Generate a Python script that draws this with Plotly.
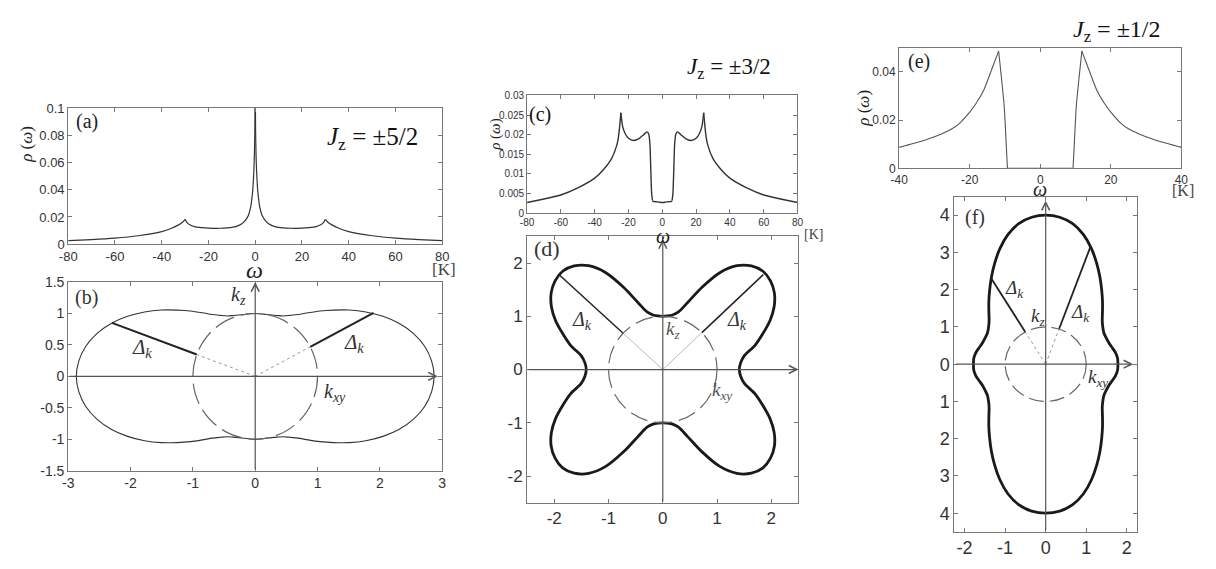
import numpy as np
import plotly.graph_objects as go

W, H = 1216, 569
SERIF = "Liberation Serif"
SANS = "Liberation Sans"

# ---------------- density of states rho(omega) ----------------
omega_a = [-80, -70, -60, -50, -40, -36, -33, -31, -30, -29.3, -28, -26, -23, -20, -15,
           -10, -7, -5, -3, -2, -1.2, -1, -0.6, -0.35, -0.15, 0,
           0.15, 0.35, 0.6, 1, 1.2, 2, 3, 5, 7, 10,
           15, 20, 23, 26, 28, 29.3, 30, 31, 33, 36, 40, 50, 60, 70, 80]
rho_a = [0.0026, 0.0033, 0.0044, 0.0062, 0.0092, 0.0115, 0.0140, 0.0163, 0.0183, 0.0160, 0.0142, 0.0129, 0.0122, 0.0118, 0.0117,
         0.0123, 0.0138, 0.0160, 0.0208, 0.0268, 0.037, 0.041, 0.053, 0.066, 0.085, 0.12,
         0.085, 0.066, 0.053, 0.041, 0.037, 0.0268, 0.0208, 0.0160, 0.0138, 0.0123,
         0.0117, 0.0118, 0.0122, 0.0129, 0.0142, 0.0160, 0.0183, 0.0163, 0.0140, 0.0115, 0.0092, 0.0062, 0.0044, 0.0033, 0.0026]
kinks_a = [-30, 0, 30]

omega_c = [-80, -70, -60, -50, -40, -35, -30, -27, -26, -25.3, -24.5, -23.5, -22, -20, -17, -14, -11, -9, -8, -7.3, -6.8, -6.3, -5.8, -5.5, -4, -2, 0,
           2, 4, 5.5, 5.8, 6.3, 6.8, 7.3, 8, 9, 11, 14, 17, 20, 22, 23.5, 24.5, 25.3, 26, 27, 30, 35, 40, 50, 60, 70, 80]
rho_c = [0.0027, 0.0036, 0.0046, 0.0064, 0.0089, 0.0110, 0.0139, 0.0172, 0.0192, 0.0218, 0.0256, 0.0222, 0.0203, 0.0191, 0.0185, 0.0189, 0.0200, 0.0207, 0.0201, 0.0175, 0.0110, 0.0050, 0.0032, 0.0030, 0.0029, 0.0028, 0.0027,
         0.0028, 0.0029, 0.0030, 0.0032, 0.0050, 0.0110, 0.0175, 0.0201, 0.0207, 0.0200, 0.0189, 0.0185, 0.0191, 0.0203, 0.0222, 0.0256, 0.0218, 0.0192, 0.0172, 0.0139, 0.0110, 0.0089, 0.0064, 0.0046, 0.0036, 0.0027]
kinks_c = [-24.5, -5.8, 5.8, 24.5]

omega_e = [-40, -36, -32, -28, -25, -22.8, -20, -18.2, -16, -14.4, -13, -12, -11.8, -11.1, -10.2, -9.7, -9.3,
           9.3, 9.7, 10.2, 11.1, 11.8, 12, 13, 14.4, 16, 18.2, 20, 22.8, 25, 28, 32, 36, 40]
rho_e = [0.0087, 0.0103, 0.0121, 0.0143, 0.0164, 0.0188, 0.0233, 0.0269, 0.0325, 0.0385, 0.0440, 0.0478, 0.0487, 0.0390, 0.0255, 0.0115, 0.0,
         0.0, 0.0115, 0.0255, 0.0390, 0.0487, 0.0478, 0.0440, 0.0385, 0.0325, 0.0269, 0.0233, 0.0188, 0.0164, 0.0143, 0.0121, 0.0103, 0.0087]
kinks_e = [-11.8, -9.3, 9.3, 11.8]

# ---------------- gap surfaces |k| = k_F + Delta_k ----------------
# polar angle measured from the k_z axis, first quadrant (mirror symmetric)
theta_deg = [0, 5, 10, 15, 20, 25, 30, 35, 40, 45, 50, 55, 60, 65, 70, 75, 80, 85, 90]
r_b = [1.00, 1.00, 1.00, 1.01, 1.03, 1.06, 1.12, 1.20, 1.32, 1.47, 1.64, 1.84, 2.05, 2.26, 2.46, 2.63, 2.76, 2.84, 2.87]
r_d = [1.00, 1.01, 1.04, 1.12, 1.34, 1.70, 2.10, 2.38, 2.54, 2.61, 2.59, 2.51, 2.37, 2.18, 1.96, 1.76, 1.53, 1.44, 1.41]
r_f = [4.00, 3.96, 3.83, 3.60, 3.30, 2.98, 2.68, 2.41, 2.18, 1.98, 1.82, 1.72, 1.66, 1.65, 1.66, 1.70, 1.75, 1.78, 1.78]

k_fermi = 1.0
# directions (deg from k_z) and outer radii of the marked Delta_k segments
gap_b_angles, gap_b_ends = [62.0, -69.7], [2.15, 2.45]
gap_d_angles, gap_d_ends = [46.1, -47.0], [2.57, 2.61]
gap_f_angles, gap_f_ends = [19.3, -30.2], [3.33, 2.68]


def closed_curve(theta, r):
    t = np.radians(np.asarray(theta, dtype=float))
    r = np.asarray(r, dtype=float)
    t_full = np.concatenate([t, np.pi - t[::-1][1:], np.pi + t[1:], 2 * np.pi - t[::-1][1:]])
    r_full = np.concatenate([r, r[::-1][1:], r[1:], r[::-1][1:]])
    return r_full * np.sin(t_full), r_full * np.cos(t_full)


def split_at(xs, ys, kinks):
    """Cut a curve into smooth pieces that share the kink points."""
    pieces, cur_x, cur_y = [], [], []
    for x, y in zip(xs, ys):
        cur_x.append(x)
        cur_y.append(y)
        if x in kinks:
            pieces.append((cur_x, cur_y))
            cur_x, cur_y = [x], [y]
    if len(cur_x) > 1:
        pieces.append((cur_x, cur_y))
    return pieces


def px_x(v):
    return v / W


def px_y(v):
    return 1 - v / H


fig = go.Figure()

# panel boxes in pixels: (left, right, top, bottom)
boxes = {
    1: (60, 439, 103, 243),
    2: (60, 439, 282, 476),
    3: (525, 799, 90, 211),
    4: (525, 800, 235, 509),
    5: (902, 1188, 41, 165),
    6: (958, 1143, 194, 539),
}


def axis_style(size):
    return dict(showline=True, mirror="ticks", linecolor="#777", linewidth=1,
                ticks="inside", ticklen=4, tickcolor="#777", showgrid=False,
                zeroline=False, tickfont=dict(family=SANS, size=size, color="#333"))


def ticks(vals, labels=None):
    if labels is None:
        labels = [("%g" % v) for v in vals]
    return dict(tickmode="array", tickvals=vals, ticktext=labels)


layout_axes = {}
xspec = {
    1: dict(range=[-80, 80], **ticks(list(range(-80, 81, 20))), size=13),
    2: dict(range=[-3, 3], **ticks([-3, -2, -1, 0, 1, 2, 3]), size=14),
    3: dict(range=[-80, 80], **ticks(list(range(-80, 81, 20))), size=10),
    4: dict(range=[-2.5, 2.5], **ticks([-2, -1, 0, 1, 2]), size=17),
    5: dict(range=[-40, 40], **ticks([-40, -20, 0, 20, 40]), size=12),
    6: dict(range=[-2.25, 2.25], **ticks([-2, -1, 0, 1, 2]), size=18),
}
yspec = {
    1: dict(range=[0, 0.1], **ticks([0, 0.02, 0.04, 0.06, 0.08, 0.1]), size=13),
    2: dict(range=[-1.5, 1.5], **ticks([-1.5, -1, -0.5, 0, 0.5, 1, 1.5]), size=14),
    3: dict(range=[0, 0.03], **ticks([0, 0.005, 0.01, 0.015, 0.02, 0.025, 0.03]), size=10),
    4: dict(range=[-2.5, 2.5], **ticks([-2, -1, 0, 1, 2]), size=17),
    5: dict(range=[0, 0.05], **ticks([0, 0.02, 0.04]), size=12),
    6: dict(range=[-4.5, 4.5], **ticks([-4, -3, -2, -1, 0, 1, 2, 3, 4],
                                        ["4", "3", "2", "1", "0", "1", "2", "3", "4"]), size=18),
}

for i, (l, r, t, b) in boxes.items():
    xs = dict(xspec[i])
    ys = dict(yspec[i])
    sx = xs.pop("size")
    sy = ys.pop("size")
    xa = axis_style(sx)
    xa.update(xs)
    xa.update(domain=[px_x(l), px_x(r)], anchor="y" if i == 1 else "y%d" % i)
    ya = axis_style(sy)
    ya.update(ys)
    ya.update(domain=[px_y(b), px_y(t)], anchor="x" if i == 1 else "x%d" % i)
    layout_axes["xaxis" if i == 1 else "xaxis%d" % i] = xa
    layout_axes["yaxis" if i == 1 else "yaxis%d" % i] = ya


def ax_ref(i):
    return ("x", "y") if i == 1 else ("x%d" % i, "y%d" % i)


# DOS curves, smoothed between their kinks
for i, (om, rho, kinks, w, col) in {1: (omega_a, rho_a, kinks_a, 1.2, "#333"),
                                    3: (omega_c, rho_c, kinks_c, 1.4, "#333"),
                                    5: (omega_e, rho_e, kinks_e, 1.1, "#555")}.items():
    xr, yr = ax_ref(i)
    for px, py in split_at(om, rho, kinks):
        fig.add_trace(go.Scatter(x=px, y=py, mode="lines", xaxis=xr, yaxis=yr,
                                 line=dict(color=col, width=w, shape="spline", smoothing=0.6),
                                 showlegend=False, hoverinfo="skip"))

annotations = []
shapes = []

# gap surfaces
surf = {2: (r_b, 1.1, "#333", gap_b_angles, gap_b_ends, "21px,7px", 2.0, "dot", "#999"),
        4: (r_d, 2.8, "#1a1a1a", gap_d_angles, gap_d_ends, "18px,7px", 1.5, "solid", "#bbb"),
        6: (r_f, 2.8, "#1a1a1a", gap_f_angles, gap_f_ends, "15px,6px", 1.8, "dot", "#999")}

arrow_ends = {2: (2.93, 1.5, -3.0, -1.5), 4: (2.5, 2.45, -2.5, -2.5), 6: (2.16, 4.39, -2.25, -4.5)}

for i, (rr, lw, col, angs, ends, dash, glw, idash, icol) in surf.items():
    xr, yr = ax_ref(i)
    # k_xy and k_z axes with arrow heads
    xe, ye, x0, y0 = arrow_ends[i]
    annotations.append(dict(x=xe, y=0, ax=x0, ay=0, xref=xr, yref=yr, axref=xr, ayref=yr,
                            text="", showarrow=True, arrowhead=5, arrowsize=1.3, arrowwidth=1.2,
                            arrowcolor="#555", standoff=0))
    annotations.append(dict(x=0, y=ye, ax=0, ay=y0, xref=xr, yref=yr, axref=xr, ayref=yr,
                            text="", showarrow=True, arrowhead=5, arrowsize=1.3, arrowwidth=1.2,
                            arrowcolor="#555", standoff=0))
    # Fermi surface |k| = k_F (dashed)
    shapes.append(dict(type="circle", xref=xr, yref=yr, x0=-k_fermi, x1=k_fermi, y0=-k_fermi, y1=k_fermi,
                       line=dict(color="#666", width=1.2, dash=dash)))
    # gap surface
    cx, cy = closed_curve(theta_deg, rr)
    fig.add_trace(go.Scatter(x=cx, y=cy, mode="lines", xaxis=xr, yaxis=yr,
                             line=dict(color=col, width=lw, shape="spline", smoothing=0.8),
                             showlegend=False, hoverinfo="skip"))
    # Delta_k segments
    for a, re in zip(angs, ends):
        s, c = np.sin(np.radians(a)), np.cos(np.radians(a))
        fig.add_trace(go.Scatter(x=[0, k_fermi * s], y=[0, k_fermi * c], mode="lines",
                                 xaxis=xr, yaxis=yr, line=dict(color=icol, width=1, dash=idash),
                                 showlegend=False, hoverinfo="skip"))
        fig.add_trace(go.Scatter(x=[k_fermi * s, re * s], y=[k_fermi * c, re * c], mode="lines",
                                 xaxis=xr, yaxis=yr, line=dict(color="#222", width=glw),
                                 showlegend=False, hoverinfo="skip"))


def data_text(i, x, y, text, size, color="#333"):
    xr, yr = ax_ref(i)
    annotations.append(dict(x=x, y=y, xref=xr, yref=yr, text=text, showarrow=False,
                            font=dict(family=SERIF, size=size, color=color),
                            xanchor="center", yanchor="middle"))


def paper_text(px, py, text, size, angle=0, color="#222"):
    annotations.append(dict(x=px_x(px), y=px_y(py), xref="paper", yref="paper", text=text,
                            showarrow=False, textangle=angle,
                            font=dict(family=SERIF, size=size, color=color),
                            xanchor="center", yanchor="middle"))


DK = "<i>Δ</i><sub><i>k</i></sub>"
KZ = "<i>k</i><sub><i>z</i></sub>"
KXY = "<i>k</i><sub><i>xy</i></sub>"
RHO = "<i>ρ</i> (<i>ω</i>)"

# panel (a)
paper_text(79, 117, "(a)", 20)
paper_text(368, 134, "<i>J</i><sub>z</sub> = ±5/2", 25, color="#111")
paper_text(249, 270, "<i>ω</i>", 24)
paper_text(441, 269, "[K]", 17, color="#444")
paper_text(17, 140, RHO, 17, angle=-90)

# panel (b)
data_text(2, -2.70, 1.25, "(b)", 20)
data_text(2, -1.81, 0.45, DK, 21)
data_text(2, 1.58, 0.53, DK, 21)
data_text(2, -0.27, 1.28, KZ, 20)
data_text(2, 1.28, -0.26, KXY, 20)

# panel (c)
paper_text(538, 110, "(c)", 20, color="#111")
paper_text(730, 62, "<i>J</i><sub>z</sub> = ±3/2", 23, color="#111")
paper_text(663, 235, "<i>ω</i>", 20)
paper_text(815, 233, "[K]", 14, color="#444")
paper_text(493, 130, RHO, 15, angle=-90)

# panel (d)
data_text(4, -2.13, 2.28, "(d)", 22)
data_text(4, -1.49, 0.93, DK, 20)
data_text(4, 1.37, 0.93, DK, 20)
data_text(4, 0.19, 0.75, KZ, 19, color="#555")
data_text(4, 1.10, -0.41, KXY, 19, color="#555")

# panel (e)
paper_text(922, 55, "(e)", 20)
paper_text(1122, 24, "<i>J</i><sub>z</sub> = ±1/2", 24, color="#111")
paper_text(1045, 186, "<i>ω</i>", 20)
paper_text(1190, 188, "[K]", 16, color="#444")
paper_text(865, 103, RHO, 17, angle=-90)

# panel (f)
data_text(6, -1.74, 3.95, "(f)", 20)
data_text(6, -0.78, 2.03, DK, 19)
data_text(6, 0.86, 1.38, DK, 19)
data_text(6, -0.20, 1.26, KZ, 19)
data_text(6, 1.30, -0.38, KXY, 19)

fig.update_layout(width=W, height=H, autosize=False, margin=dict(l=0, r=0, t=0, b=0),
                  paper_bgcolor="white", plot_bgcolor="white", showlegend=False,
                  annotations=annotations, shapes=shapes, **layout_axes)

fig.write_html("out.html")
